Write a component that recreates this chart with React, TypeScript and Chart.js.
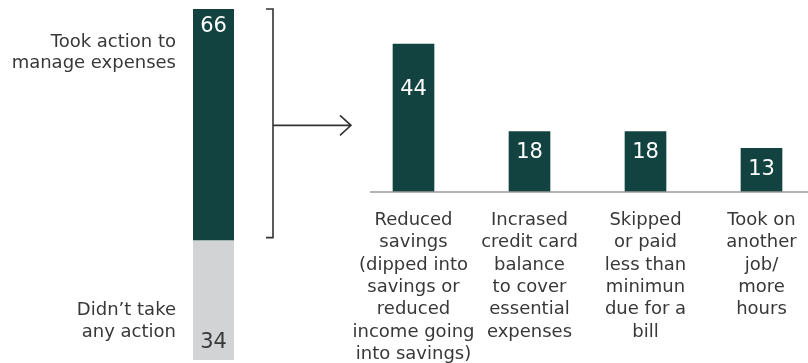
import React, { useEffect, useRef } from "react";
import { Chart, registerables } from "chart.js";

Chart.register(...registerables);

// ---- data ----
const summaryNames = ["Didn\u2019t take any action", "Took action to manage expenses"];
const summaryLabelLines = [["Didn\u2019t take", "any action"], ["Took action to", "manage expenses"]];
const summaryValues = [34, 66];

const actionCategories = [
  ["Reduced", "savings", "(dipped into", "savings or", "reduced", "income going", "into savings)"],
  ["Incrased", "credit card", "balance", "to cover", "essential", "expenses"],
  ["Skipped", "or paid", "less than", "minimun", "due for a", "bill"],
  ["Took on", "another", "job/", "more", "hours"],
];
const actionValues = [44, 18, 18, 13];

// ---- styles ----
const GREEN = "#124340";
const GRAY = "#d1d3d4";
const TEXT = "#383838";
const FONT = '"DejaVu Sans", sans-serif';

const summaryPlugin = {
  id: "summaryDecor",
  afterDatasetsDraw(chart: any) {
    const ctx = chart.ctx;
    const gray = chart.getDatasetMeta(0).data[0];
    const green = chart.getDatasetMeta(1).data[0];
    ctx.save();
    ctx.textAlign = "center";
    ctx.textBaseline = "middle";
    ctx.font = `21px ${FONT}`;
    ctx.fillStyle = "#ffffff";
    ctx.fillText(String(summaryValues[1]), green.x, green.y + 18);
    ctx.fillStyle = TEXT;
    ctx.fillText(String(summaryValues[0]), gray.x, gray.base - 17);

    ctx.font = `18px ${FONT}`;
    ctx.textAlign = "right";
    const lx = green.x - green.width / 2 - 17;
    summaryLabelLines[1].forEach((t, i) => ctx.fillText(t, lx, green.y + 33 + i * 21.5));
    summaryLabelLines[0].forEach((t, i) => ctx.fillText(t, lx, gray.base - 50 + i * 22.5));

    // bracket + arrow
    const bx = green.x + green.width / 2 + 39;
    const top = green.y;
    const bottom = green.base - 3;
    ctx.strokeStyle = "#333333";
    ctx.lineWidth = 1.6;
    ctx.beginPath();
    ctx.moveTo(bx - 7, top);
    ctx.lineTo(bx, top);
    ctx.lineTo(bx, bottom);
    ctx.lineTo(bx - 7, bottom);
    ctx.stroke();
    const ay = (top + bottom) / 2 + 2;
    const ax = bx + 78;
    ctx.beginPath();
    ctx.moveTo(bx, ay);
    ctx.lineTo(ax, ay);
    ctx.moveTo(ax - 11, ay - 10);
    ctx.lineTo(ax, ay);
    ctx.lineTo(ax - 11, ay + 10);
    ctx.stroke();
    ctx.restore();
  },
};

const actionPlugin = {
  id: "actionDecor",
  afterDatasetsDraw(chart: any) {
    const ctx = chart.ctx;
    const area = chart.chartArea;
    ctx.save();
    ctx.strokeStyle = "#9a9a9a";
    ctx.lineWidth = 1.6;
    ctx.beginPath();
    ctx.moveTo(area.left + 14.5, area.bottom);
    ctx.lineTo(chart.width - 12, area.bottom);
    ctx.stroke();

    ctx.font = `21px ${FONT}`;
    ctx.fillStyle = "#ffffff";
    ctx.textAlign = "center";
    ctx.textBaseline = "middle";
    chart.getDatasetMeta(0).data.forEach((bar: any, i: number) => {
      const h = bar.base - bar.y;
      const off = h > 100 ? h * 0.31 : 21;
      ctx.fillText(String(actionValues[i]), bar.x, bar.y + off);
    });
    ctx.restore();
  },
};

export default function App() {
  const leftRef = useRef<HTMLCanvasElement>(null);
  const rightRef = useRef<HTMLCanvasElement>(null);

  useEffect(() => {
    const left = new Chart(leftRef.current as HTMLCanvasElement, {
      type: "bar",
      data: {
        labels: ["All"],
        datasets: [
          { label: summaryNames[0], data: [summaryValues[0]], backgroundColor: GRAY, borderWidth: 0 },
          { label: summaryNames[1], data: [summaryValues[1]], backgroundColor: GREEN, borderWidth: 0 },
        ],
      },
      options: {
        animation: false,
        responsive: false,
        maintainAspectRatio: false,
        layout: { padding: { left: 193, right: 126, top: 9, bottom: 3 } },
        plugins: { legend: { display: false }, tooltip: { enabled: false } },
        datasets: { bar: { barPercentage: 1, categoryPercentage: 1 } },
        scales: {
          x: { display: false, stacked: true },
          y: { display: false, stacked: true, min: 0, max: 100 },
        },
      },
      plugins: [summaryPlugin],
    });

    const right = new Chart(rightRef.current as HTMLCanvasElement, {
      type: "bar",
      data: {
        labels: actionCategories,
        datasets: [{ data: actionValues, backgroundColor: GREEN, borderWidth: 0, barThickness: 41 }],
      },
      options: {
        animation: false,
        responsive: false,
        maintainAspectRatio: false,
        layout: { padding: { left: 3.5, right: 0.5, top: 24, bottom: 0 } },
        plugins: { legend: { display: false }, tooltip: { enabled: false } },
        scales: {
          x: {
            grid: { display: false, drawTicks: false },
            border: { display: false },
            ticks: {
              color: TEXT,
              font: { family: FONT, size: 18, lineHeight: "22.4px" },
              padding: 17,
              maxRotation: 0,
              minRotation: 0,
              autoSkip: false,
            },
            afterFit: (s: any) => {
              s.height = 171;
              s.paddingLeft = 0;
              s.paddingRight = 0;
            },
          },
          y: { display: false, min: 0, max: 50 },
        },
      },
      plugins: [actionPlugin],
    });

    return () => {
      left.destroy();
      right.destroy();
    };
  }, []);

  return (
    <div
      style={{
        position: "absolute",
        left: 0,
        top: 0,
        width: 808,
        height: 363,
        overflow: "hidden",
        background: "#ffffff",
      }}
    >
      <canvas ref={leftRef} width={360} height={363} style={{ position: "absolute", left: 0, top: 0 }} />
      <canvas ref={rightRef} width={468} height={363} style={{ position: "absolute", left: 352, top: 0 }} />
    </div>
  );
}
